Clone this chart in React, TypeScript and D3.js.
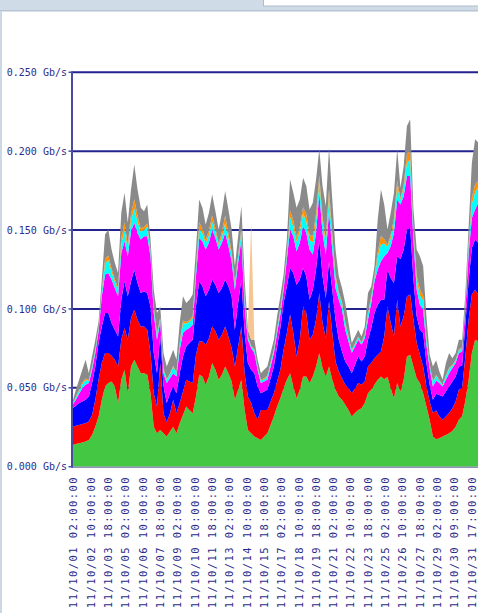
import { useEffect, useRef } from 'react';
import * as d3 from 'd3';

// one sample every 6 hours starting 11/10/01 00:00, values in Mb/s
const sampleStepHours = 6;

const green = [
  13.8, 14.4, 14.9, 15.3, 15.9, 17, 20.1, 25.4, 31.8, 42.4,
  50.8, 53, 54, 50.8, 40.3, 55.1, 61.4, 46.6, 63.5, 67.8,
  63.5, 59.3, 59.3, 58.3, 46.6, 25.4, 21.2, 23.3, 21.2, 19.1,
  22.3, 25.4, 21.2, 27.6, 32.8, 38.1, 36, 33.9, 44.5, 58.3,
  57.2, 51.9, 57.2, 65.7, 61.4, 55.1, 58.3, 63.5, 59.3, 54,
  42.4, 48.7, 55.1, 36, 23.3, 21.2, 19.1, 18, 17, 19.1,
  21.2, 26.5, 31.8, 38.1, 43.4, 49.8, 55.1, 59.3, 50.8, 43.4,
  48.7, 57.2, 57.2, 53, 57.2, 63.5, 72, 62.5, 57.2, 63.5,
  55.1, 48.7, 44.5, 42.4, 39.2, 36, 31.8, 34, 36, 37.1,
  40.3, 46.6, 48.7, 51.9, 55.1, 57.2, 55.5, 56.8, 49.8, 43.4,
  53, 47.7, 55.1, 69.9, 70.9, 63.5, 56.1, 53, 46.6, 38.1,
  29.7, 19.1, 17.4, 18, 19.1, 20.1, 21.2, 22.7, 25.4, 29.7,
  32, 42, 55, 72, 80.5, 79.4, 78.4,
];

const red = [
  11.6, 11.5, 11.6, 11.8, 11.7, 11.6, 12.7, 17, 23.3, 23.3,
  21.2, 19, 16.3, 17, 23.2, 25.4, 26.5, 33.9, 30.7, 31.7,
  29.7, 29.6, 29.6, 28.5, 25.4, 21.2, 16.9, 42.4, 12.7, 9,
  11.6, 17, 12.7, 12.7, 14.9, 17, 18, 19.1, 26.5, 21.1,
  22.2, 25.4, 24.3, 23.2, 24.4, 25.4, 25.4, 25.4, 23.3, 21.2,
  21.1, 27.5, 33.8, 23.3, 21.2, 19.1, 14.8, 11.7, 19, 16.9,
  14.8, 14.8, 14.8, 15.9, 18, 24.3, 29.6, 37.1, 33.9, 26.5,
  31.8, 44.4, 40.2, 27.5, 26.5, 29.7, 38.1, 28.6, 24.3, 41.3,
  29.6, 18, 15.9, 13.7, 12.7, 13.8, 14.8, 15.8, 17, 14.8,
  13.7, 16.9, 17, 16.9, 15.8, 15.9, 27.1, 44.8, 41.3, 39.2,
  52.9, 41.2, 40.2, 38.1, 38.2, 29.7, 22.3, 17.9, 16.9, 12.7,
  11.6, 14.9, 18.2, 13.8, 10.6, 11.7, 12.8, 14.4, 15.9, 19,
  18, 28, 38, 37.1, 31.7, 29.7, 27.5,
];

const blue = [
  11.7, 12.7, 13.8, 14.2, 14.8, 15.9, 20.2, 21.1, 23.3, 23.2,
  25.4, 25.4, 20.8, 19, 19.1, 25.4, 29.6, 27.5, 23.3, 25.4,
  23.3, 21.2, 22.3, 23.3, 29.6, 25.4, 21.2, 18, 16.9, 12.2,
  12.7, 8.4, 12.7, 19, 22.2, 21.1, 24.4, 27.5, 30.6, 38.1,
  35, 30.7, 30.7, 29.7, 29.6, 29.6, 29.6, 29.7, 31.8, 32.8,
  23.3, 27.6, 29.7, 25.4, 21.2, 21.1, 25.4, 21.1, 10.6, 11.7,
  12.7, 14.8, 16.9, 22.2, 26.5, 29.7, 29.6, 29.6, 38.1, 45.5,
  38.1, 24.4, 23.3, 25.4, 28.5, 31.8, 33.9, 29.6, 25.5, 25.4,
  27.5, 26.5, 20.1, 17, 14.8, 13.7, 12.7, 14.8, 16.9, 14.8,
  15.9, 17, 22.2, 28.6, 31.8, 32.8, 23.3, 23.4, 28.5, 33.9,
  27.5, 42.8, 42.3, 42.3, 42.3, 25.4, 16.9, 15.9, 21.2, 14.9,
  10.6, 8.4, 10.6, 13.7, 14.8, 15.9, 16.8, 16.9, 15.9, 14.8,
  14, 20, 25, 29.6, 31.8, 32.8, 33.9,
];

const magenta = [
  2.1, 3.8, 5.9, 8.5, 9.5, 8.5, 8.4, 8.5, 7.4, 19.1,
  24.4, 25.4, 27.5, 26.5, 25.4, 29.6, 25.4, 25.4, 31.8, 29.7,
  31.7, 33.9, 34.9, 36, 31.8, 25.4, 21.2, 8.4, 8.5, 12.7,
  9.5, 8.5, 10.6, 14.8, 14.8, 10.6, 9.5, 9.5, 19.1, 27.5,
  28.5, 29.6, 29.7, 31.7, 29.6, 27.5, 28.6, 29.6, 25.4, 22.2,
  25.4, 25.4, 25.4, 16.9, 14.8, 13.8, 12.7, 10.6, 6.4, 6.3,
  6.4, 7.4, 8.5, 8.5, 8.5, 8.4, 17, 24.3, 23.3, 21.2,
  23.3, 26.5, 27.5, 31.7, 22.3, 23.2, 29.6, 27.5, 27.5, 31.8,
  25.4, 20.1, 25.4, 26.4, 20.1, 15.9, 12.7, 11.6, 10.6, 10.6,
  11.6, 12.7, 15.9, 20.1, 22.3, 24.3, 27.5, 10.5, 20.2, 31.7,
  36, 34.5, 33.9, 33.9, 32.8, 25.4, 16.9, 15.9, 14.8, 11.6,
  10.6, 8.4, 8.4, 7.5, 6.3, 7.4, 8.5, 8.5, 8.5, 8.5,
  9, 10, 17, 19, 19, 25.4, 29.6,
];

const cyan = [
  0.5, 1.5, 2, 2.5, 3, 1.5, 2, 2, 1.5, 3,
  7, 8, 5, 4, 4, 6, 7, 5, 7, 9,
  7, 5, 4, 6, 3, 3, 3, 2, 2.5, 2,
  2.5, 4, 2, 4, 6, 4, 4, 4, 4, 6,
  5, 4, 5, 5, 4, 3, 4, 6, 5, 4,
  3, 4, 5, 4, 1.5, 1, 2, 1.5, 1.5, 1.5,
  2, 2, 2, 2.5, 3, 2, 3, 8, 6, 6,
  7, 8, 7, 6, 8, 8, 7, 7, 7, 9,
  7, 6, 4, 4, 4, 3, 1.5, 1.5, 1.5, 1,
  2, 4, 3, 2.5, 8, 11, 8, 4, 5, 6,
  8, 3, 5, 9, 10, 4, 6, 6, 6, 4,
  2, 3, 3, 1.5, 1, 2.5, 3, 1.5, 1.5, 2,
  2, 2, 5, 9, 11, 10, 9,
];

const orange = [
  0, 0.5, 0.5, 1, 1, 0.5, 0.5, 0.5, 0.5, 1,
  3, 3, 2, 1.5, 1.5, 4, 5, 2, 4, 6,
  4, 2, 2, 2, 1, 1, 1, 0.5, 0.5, 0.5,
  0.5, 0.5, 0.5, 1, 2, 1, 1, 1.5, 1.5, 4,
  3, 2, 3, 4, 2, 1, 3, 5, 3, 2,
  1, 1, 2, 1, 0.5, 0.5, 0.5, 0.5, 0.5, 0.5,
  0.5, 0.5, 0.5, 0.5, 1, 0.5, 1, 4, 4, 3,
  3, 4, 5, 3, 4, 4, 4, 3, 3, 5,
  3, 2, 1, 1, 1, 0.5, 0.5, 0.5, 0.5, 0.5,
  0.5, 1, 1, 1, 3, 5, 3, 1, 2, 3,
  4, 1, 2, 5, 6, 2, 3, 4, 3, 1,
  0.5, 0.5, 0.5, 0.5, 0.3, 0.5, 0.5, 0.5, 0.5, 0.5,
  0.5, 1, 2, 4, 5, 4, 4,
];

const gray = [
  1.6, 4.3, 6.4, 8.1, 11.9, 4.3, 6, 6, 4.3, 6.6,
  15.4, 16.5, 12, 10.4, 9.3, 15.4, 18.7, 14.2, 15.4, 22,
  16.5, 13.1, 9.9, 12.1, 6.6, 10.8, 12.9, 7, 9.7, 8,
  9.7, 10.3, 8.1, 12, 15.3, 12, 13, 13.6, 11.4, 14.4,
  13.2, 9.9, 11, 13.3, 11, 8.7, 12, 15.5, 15.2, 14.1,
  10.9, 11.9, 14.2, 12, 4.3, 3.8, 6, 4.4, 4.3, 5.4,
  5.9, 6, 6, 7.6, 7.6, 7.1, 8.7, 19.8, 17.5, 18.5,
  17.5, 18.6, 17.7, 16.4, 20.8, 21.9, 16.6, 19.7, 20.7, 26.2,
  21.8, 16.3, 9.8, 8.8, 12, 8.2, 4.4, 4.4, 4.3, 3.8,
  4.9, 11.9, 6.5, 6.1, 20.7, 29.5, 21.8, 9.8, 14.1, 16.4,
  19.8, 6.6, 12.1, 17.8, 20, 13, 16.4, 20.7, 18.6, 13,
  5.9, 9.2, 9.3, 5.4, 3, 7.6, 9.2, 4.3, 4.3, 6,
  5, 7, 10, 22, 28.5, 24.1, 20.9,
];

// single short burst on 11/10/14
const peachSpikes = [{ sample: 55, value: 74 }];

const layerKeys = ['green', 'red', 'blue', 'magenta', 'cyan', 'orange', 'gray', 'peach'];
const layerColours: Record<string, string> = {
  green: '#44c844',
  red: '#ff0000',
  blue: '#0000ff',
  magenta: '#ff00ff',
  cyan: '#00ffff',
  orange: '#ff9000',
  gray: '#8a8a8a',
  peach: '#f6c692',
};

const yTicks = [0, 50, 100, 150, 200, 250];

const xTickHours = [2, 34, 66, 98, 130, 162, 194, 226, 258, 290, 322, 354,
  386, 418, 450, 482, 514, 546, 578, 610, 642, 674, 706, 738];
const xTickLabels = [
  '11/10/01 02:00:00', '11/10/02 10:00:00', '11/10/03 18:00:00', '11/10/05 02:00:00',
  '11/10/06 10:00:00', '11/10/07 18:00:00', '11/10/09 02:00:00', '11/10/10 10:00:00',
  '11/10/11 18:00:00', '11/10/13 02:00:00', '11/10/14 10:00:00', '11/10/15 18:00:00',
  '11/10/17 02:00:00', '11/10/18 10:00:00', '11/10/19 18:00:00', '11/10/21 02:00:00',
  '11/10/22 10:00:00', '11/10/23 18:00:00', '11/10/25 02:00:00', '11/10/26 10:00:00',
  '11/10/27 18:00:00', '11/10/29 02:00:00', '11/10/30 09:00:00', '11/10/31 17:00:00',
];

type Row = { hour: number; [key: string]: number };

const App = () => {
  const chartRef = useRef<SVGSVGElement | null>(null);

  useEffect(() => {
    const svg = d3.select(chartRef.current);
    svg.selectAll('*').remove();

    const width = 478;
    const height = 613;
    const left = 72;
    const plotTop = 72.3;
    const plotBottom = 466.7;
    const axisColour = '#23238e';
    const textColour = '#2c2c8c';

    const peach = green.map(() => 0);
    peachSpikes.forEach(s => { peach[s.sample] = s.value; });

    const rows: Row[] = green.map((g, i) => ({
      hour: i * sampleStepHours,
      green: g,
      red: red[i],
      blue: blue[i],
      magenta: magenta[i],
      cyan: cyan[i],
      orange: orange[i],
      gray: gray[i],
      peach: peach[i],
    }));

    const xScale = d3.scaleLinear()
      .domain([0, 744])
      .range([72.6, 72.6 + 744 * 0.541]);

    const yScale = d3.scaleLinear()
      .domain([0, 250])
      .range([plotBottom, plotTop]);

    // page frame
    svg.append('rect').attr('x', 0).attr('y', 0).attr('width', width).attr('height', height).attr('fill', '#ffffff');
    svg.append('rect').attr('x', 0).attr('y', 0).attr('width', width).attr('height', 11).attr('fill', '#cfdbe6');
    svg.append('rect').attr('x', 263.5).attr('y', -1).attr('width', 220).attr('height', 7)
      .attr('fill', '#ffffff').attr('stroke', '#aebccb').attr('stroke-width', 1);
    svg.append('rect').attr('x', 0).attr('y', 10).attr('width', width).attr('height', 1.5).attr('fill', '#b6c4d2');
    svg.append('rect').attr('x', 0).attr('y', 11).attr('width', 2).attr('height', height).attr('fill', '#cbd7e3');

    // grid lines sit behind the traffic
    svg.append('g')
      .selectAll('line')
      .data(yTicks.filter(t => t > 0))
      .join('line')
      .attr('x1', left)
      .attr('x2', width + 5)
      .attr('y1', d => yScale(d))
      .attr('y2', d => yScale(d))
      .attr('stroke', axisColour)
      .attr('stroke-width', 2);

    const stack = d3.stack<Row>().keys(layerKeys);
    const series = stack(rows);

    const area = d3.area<d3.SeriesPoint<Row>>()
      .x(d => xScale(d.data.hour))
      .y0(d => yScale(d[0]))
      .y1(d => yScale(d[1]));

    svg.append('g')
      .selectAll('path')
      .data(series)
      .join('path')
      .attr('fill', d => layerColours[d.key])
      .attr('d', area);

    // axes
    svg.append('line')
      .attr('x1', left).attr('x2', width)
      .attr('y1', plotBottom + 0.5).attr('y2', plotBottom + 0.5)
      .attr('stroke', '#8d93b8').attr('stroke-width', 1.5);

    svg.append('line')
      .attr('x1', left).attr('x2', left)
      .attr('y1', plotTop - 1).attr('y2', plotBottom + 1)
      .attr('stroke', '#4b4ba3').attr('stroke-width', 2);

    const yAxis = svg.append('g');
    yAxis.selectAll('line')
      .data(yTicks)
      .join('line')
      .attr('x1', 68.5).attr('x2', left)
      .attr('y1', d => yScale(d)).attr('y2', d => yScale(d))
      .attr('stroke', '#4b4ba3').attr('stroke-width', 1.5);

    yAxis.selectAll('text')
      .data(yTicks)
      .join('text')
      .attr('x', 67)
      .attr('y', d => yScale(d))
      .attr('dy', '0.36em')
      .attr('text-anchor', 'end')
      .attr('font-family', '"DejaVu Sans Mono", monospace')
      .attr('font-size', '10px')
      .attr('fill', textColour)
      .text(d => `${(d / 1000).toFixed(3)} Gb/s`);

    svg.append('g')
      .selectAll('text')
      .data(xTickHours)
      .join('text')
      .attr('transform', d => `translate(${xScale(d)},476) rotate(-90)`)
      .attr('dy', '0.36em')
      .attr('text-anchor', 'end')
      .attr('font-family', '"DejaVu Sans Mono", monospace')
      .attr('font-size', '10.5px')
      .attr('letter-spacing', '1.45px')
      .attr('fill', textColour)
      .text((d, i) => xTickLabels[i]);
  }, []);

  return (
    <svg
      ref={chartRef}
      width={478}
      height={613}
      style={{ position: 'absolute', left: 0, top: 0 }}
    />
  );
};

export default App;
